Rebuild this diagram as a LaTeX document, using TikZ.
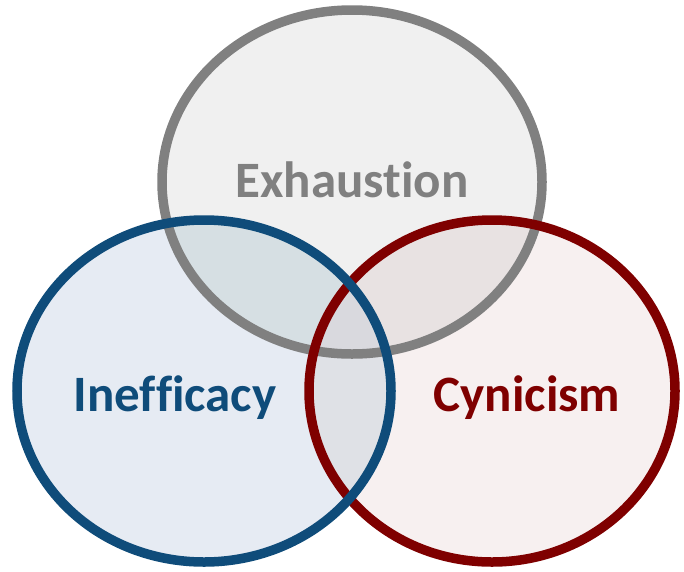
\documentclass[tikz,border=0pt]{standalone}
\usepackage{fontspec}
\setmainfont[Ligatures=NoCommon]{Carlito}
\definecolor{exS}{HTML}{808080}
\definecolor{exF}{HTML}{F0F0F0}
\definecolor{inS}{HTML}{0F4C7A}
\definecolor{inF}{HTML}{E6EBF3}
\definecolor{cyS}{HTML}{7F0000}
\definecolor{cyF}{HTML}{F7F0F0}
\definecolor{exin}{HTML}{D6DFE3}
\definecolor{excy}{HTML}{E8E2E2}
\definecolor{incy}{HTML}{DFE1E6}
\definecolor{allF}{HTML}{D9D9DE}
\tikzset{
  ring/.style={line width=9.5pt},
  lbl/.style={font=\bfseries\fontsize{51}{51}\selectfont, anchor=base, inner sep=0pt}
}
\begin{document}
\begin{tikzpicture}[x=1pt,y=-1pt]
\useasboundingbox (0,0) rectangle (684,571);
\def\ex{(352,182) ellipse [x radius=190, y radius=172]}
\def\inn{(204,391) ellipse [x radius=187, y radius=171]}
\def\cy{(492,391) ellipse [x radius=183, y radius=171]}
% fills
\fill[exF] \ex;
\fill[inF] \inn;
\fill[cyF] \cy;
\begin{scope}\clip \ex; \fill[exin] \inn; \end{scope}
\begin{scope}\clip \ex; \fill[excy] \cy; \end{scope}
\begin{scope}\clip \inn; \fill[incy] \cy; \end{scope}
\begin{scope}\clip \ex; \clip \inn; \fill[allF] \cy; \end{scope}
% strokes
\draw[ring, exS] \ex;
\draw[ring, cyS] \cy;
\draw[ring, inS] \inn;
% labels
\node[lbl, text=exS] (exh) at (352,197) {Exhaustion};
\node[lbl, text=inS] (ine) at (175,411) {Inefficacy};
\node[lbl, text=cyS] (cyn) at (527,411) {Cynicism};
\end{tikzpicture}
\end{document}
